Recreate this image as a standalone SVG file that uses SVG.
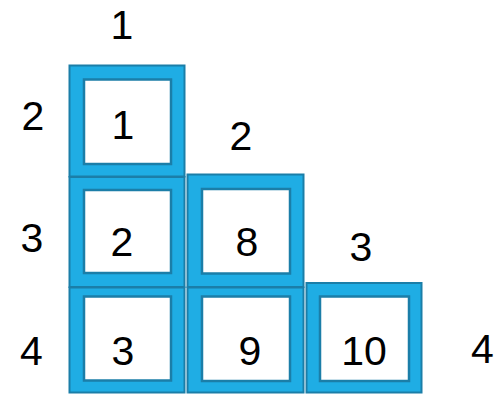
<svg xmlns="http://www.w3.org/2000/svg" width="497" height="395" viewBox="0 0 497 395">
<style>
.outer{fill:#1fade4;stroke:#1b7ea8;stroke-width:2}
.inner{fill:#ffffff;stroke:#1b7ea8;stroke-width:2.5}
text{font-family:"Liberation Sans",Arial,sans-serif;font-size:41px;fill:#000;text-anchor:middle}
</style>
<rect width="497" height="395" fill="#ffffff"/>
<g id="labels">
<text x="122" y="39">1</text>
<text x="241" y="150">2</text>
<text x="361" y="261">3</text>
<text x="33" y="130">2</text>
<text x="32" y="252">3</text>
<text x="31.5" y="365">4</text>
<text x="482.5" y="363">4</text>
</g>
<g id="box1">
<rect class="outer" x="69.5" y="65.5" width="115" height="111"/>
<rect class="inner" x="84" y="79.5" width="87" height="84.5"/>
<text x="123" y="139">1</text>
</g>
<g id="box2">
<rect class="outer" x="69.5" y="177" width="115" height="110"/>
<rect class="inner" x="84" y="190" width="87" height="83"/>
<text x="122" y="256">2</text>
</g>
<g id="box3">
<rect class="outer" x="69.5" y="287.5" width="115" height="105"/>
<rect class="inner" x="84" y="296.5" width="87" height="84"/>
<text x="123" y="365">3</text>
</g>
<g id="box8">
<rect class="outer" x="187.5" y="174.5" width="116" height="112.5"/>
<rect class="inner" x="202" y="189" width="88" height="84.5"/>
<text x="247" y="256">8</text>
</g>
<g id="box9">
<rect class="outer" x="187.5" y="287.5" width="116" height="105"/>
<rect class="inner" x="202" y="296.5" width="88" height="84.5"/>
<text x="250" y="365">9</text>
</g>
<g id="box10">
<rect class="outer" x="306.5" y="283" width="115" height="109.5"/>
<rect class="inner" x="320" y="296.5" width="89" height="84.5"/>
<text x="364" y="365">10</text>
</g>
<g id="connectors"/>
</svg>
